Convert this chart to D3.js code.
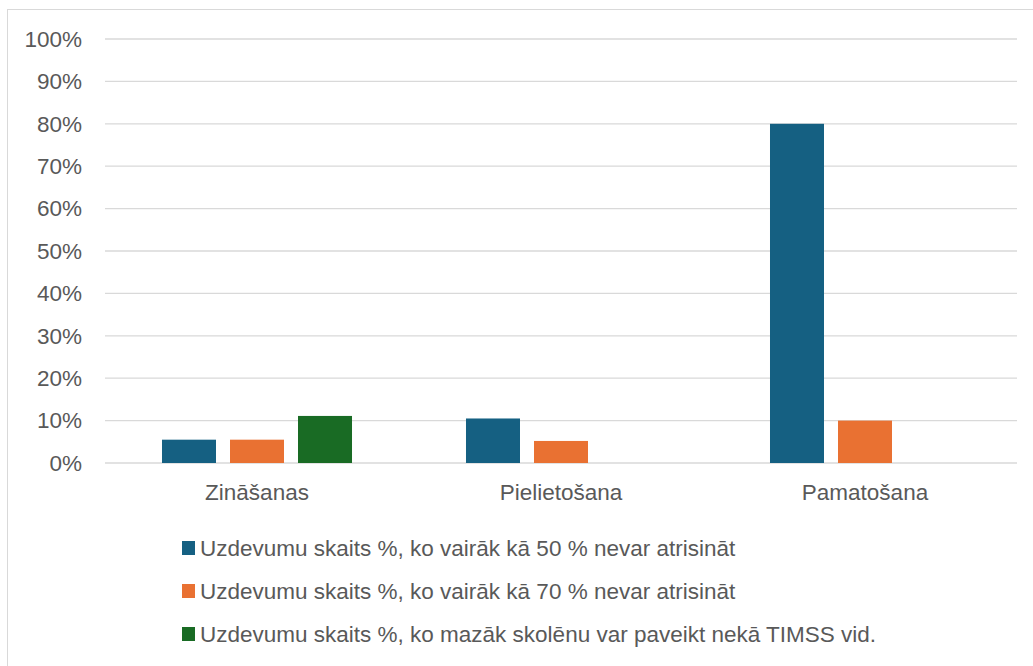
<!DOCTYPE html>
<html><head><meta charset="utf-8">
<script src="https://cdn.jsdelivr.net/npm/d3@7"></script>
<style>body{margin:0;background:#fff}svg{display:block}text{font-family:"Liberation Sans",Arial,sans-serif;fill:#595959}</style>
</head><body><svg id="c" width="1033" height="666"></svg>
<script>
const categories = ["Zināšanas", "Pielietošana", "Pamatošana"];
const seriesNames = [
  "Uzdevumu skaits %, ko vairāk kā 50 % nevar atrisināt",
  "Uzdevumu skaits %, ko vairāk kā 70 % nevar atrisināt",
  "Uzdevumu skaits %, ko mazāk skolēnu var paveikt nekā TIMSS vid."
];
const series50 = [5.5, 10.5, 80];
const series70 = [5.5, 5.2, 10];
const seriesTimss = [11.1, 0, 0];
const yTicks = [0,10,20,30,40,50,60,70,80,90,100];
const colors = ["#156082", "#E97132", "#196B24"];

const FONT = "'Liberation Sans',Arial,sans-serif";
const FS = "22.5px";
const values = [series50, series70, seriesTimss];
const svg = d3.select("#c");
svg.append("rect").attr("x",7.5).attr("y",9.5).attr("width",1040).attr("height",700)
  .attr("fill","#fff").attr("stroke","#d9d9d9").attr("stroke-width",1);

const x0 = d3.scaleBand().domain(categories).range([105,1017]).padding(0);
const x1 = d3.scaleBand().domain([0,1,2]).range([0,x0.bandwidth()]).paddingInner(0.206).paddingOuter(0.838);
const y = d3.scaleLinear().domain([0,100]).range([463,39]);

const grid = svg.append("g");
grid.selectAll("line").data(yTicks).join("line")
  .attr("x1",105).attr("x2",1017).attr("y1",d=>y(d)).attr("y2",d=>y(d))
  .attr("stroke","#d9d9d9").attr("stroke-width",1.3);

const yAxis = d3.axisLeft(y).tickValues(yTicks).tickFormat(d=>d+"%").tickSize(0).tickPadding(0);
const ya = svg.append("g").attr("transform","translate(82,0)").call(yAxis);
ya.select(".domain").remove();
ya.selectAll("text").style("font-size",FS).style("font-family",FONT).attr("fill","#595959");

const groups = svg.append("g").selectAll("g").data(categories).join("g")
  .attr("transform",d=>`translate(${x0(d)},0)`);
groups.selectAll("rect").data((d,i)=>values.map((s,k)=>({k,v:s[i]})).filter(o=>o.v>0)).join("rect")
  .attr("x",o=>x1(o.k)).attr("width",x1.bandwidth())
  .attr("y",o=>y(o.v)).attr("height",o=>y(0)-y(o.v)).attr("fill",o=>colors[o.k]);

const xAxis = d3.axisBottom(x0).tickSize(0).tickPadding(0);
const xa = svg.append("g").attr("transform","translate(0,484)").call(xAxis);
xa.select(".domain").remove();
xa.selectAll("text").style("font-size",FS).style("font-family",FONT).attr("fill","#595959");

const leg = svg.append("g").selectAll("g").data(seriesNames).join("g")
  .attr("transform",(d,i)=>`translate(182,${548+i*43})`);
leg.append("rect").attr("x",0).attr("y",-7).attr("width",13).attr("height",14).attr("fill",(d,i)=>colors[i]);
leg.append("text").attr("x",18).attr("y",0).attr("dy","0.35em").style("font-size",FS).text(d=>d);
</script></body></html>
